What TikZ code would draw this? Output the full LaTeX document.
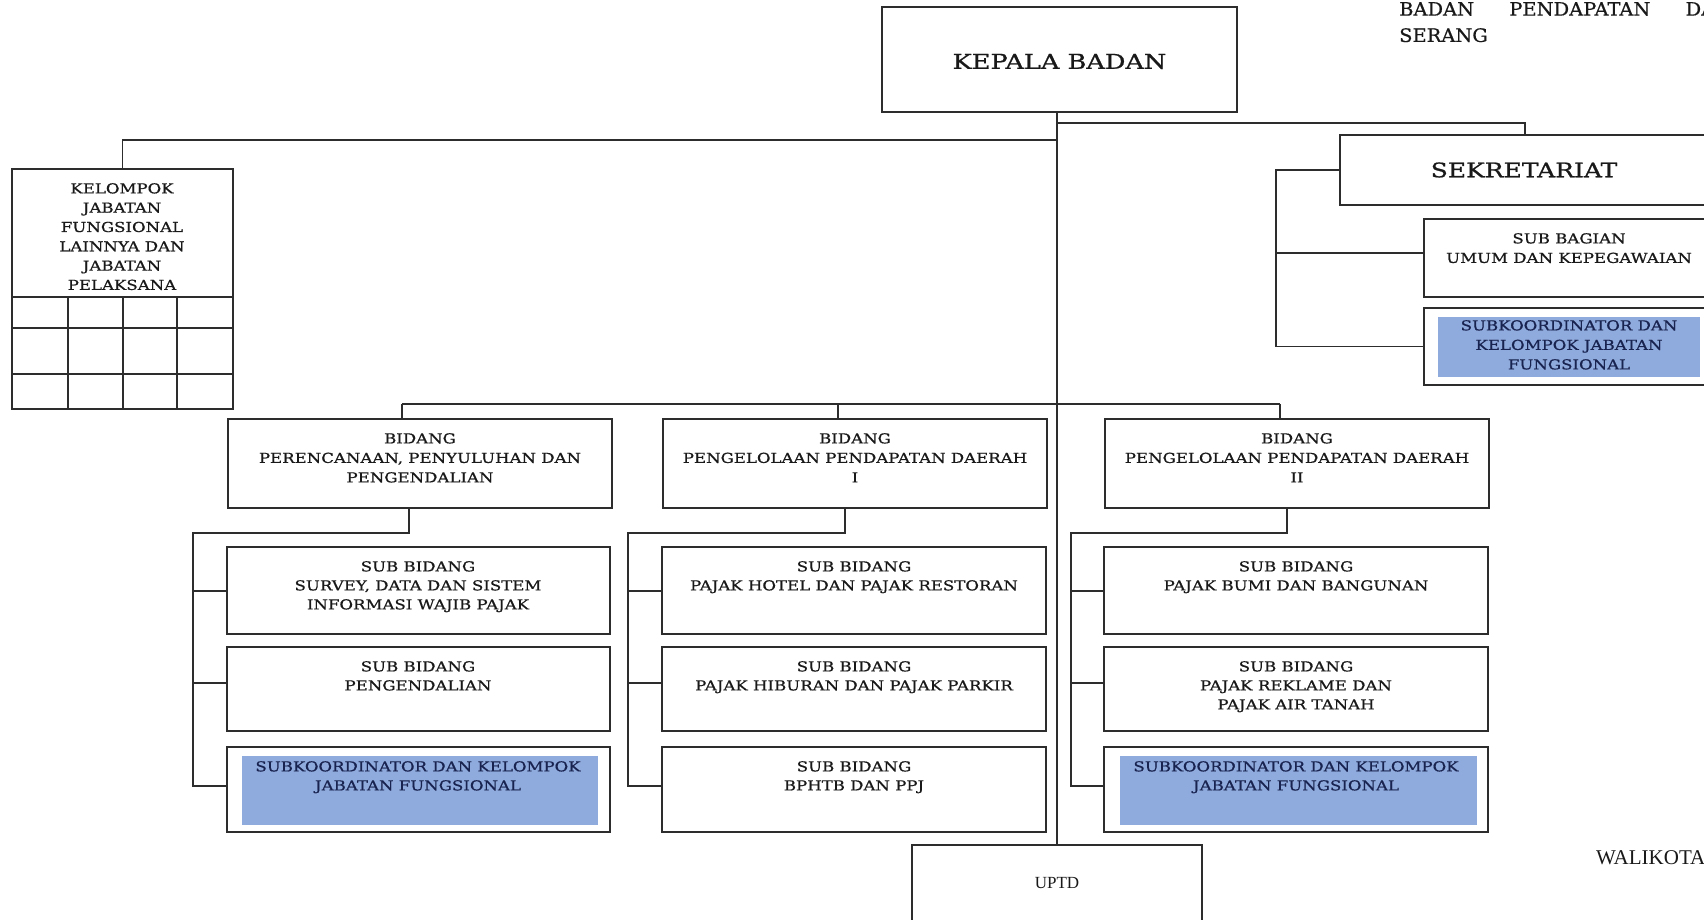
\documentclass[tikz,border=0pt]{standalone}
\usepackage{fontspec}
\usetikzlibrary{fit}
\newfontfamily\bfnt[FakeStretch=1.21,FakeBold=0.8]{DejaVu Serif}
\newfontfamily\kfnt[FakeStretch=1.25,FakeBold=1]{DejaVu Serif}
\newfontfamily\hfnt[FakeStretch=1.05,FakeBold=0.6]{DejaVu Serif}
\newfontfamily\tfnt{Liberation Serif}
\definecolor{linec}{RGB}{45,45,45}
\definecolor{blueF}{RGB}{143,170,220}
\definecolor{navy}{RGB}{25,35,80}
\definecolor{textc}{RGB}{25,25,25}
\tikzset{
  box/.style={draw=linec, line width=1.5pt, inner sep=0pt},
  bluefill/.style={fill=blueF, draw=none, inner sep=0pt},
  conn/.style={draw=linec, line width=1.5pt},
  spine/.style={draw=linec, line width=2pt},
  txt/.style={align=center, inner sep=0pt, anchor=north, text=textc,
    font=\bfnt\fontsize{13.7}{19}\selectfont},
  txtw/.style={txt, font=\bfnt\fontsize{13.7}{19.5}\selectfont},
  btxt/.style={txt, text=navy},
  big/.style={inner sep=0pt, text=textc},
}
\begin{document}
\begin{tikzpicture}[x=1pt,y=-1pt]
\useasboundingbox (0,0) rectangle (1704,920);
\clip (0,0) rectangle (1704,920);
\fill[white] (0,0) rectangle (1704,920);

% header text
\node[big, anchor=north west, font=\hfnt\fontsize{18.5}{26}\selectfont] (hdr1) at (1399,2) {\makebox[316pt][s]{BADAN PENDAPATAN DA}};
\node[big, anchor=north west, font=\hfnt\fontsize{18.5}{26}\selectfont] (hdr2) at (1399,28) {SERANG};
\node[big, anchor=north west, font=\tfnt\fontsize{21}{25}\selectfont] (wali) at (1596,850) {WALIKOTA};

% KEPALA BADAN
\node[box, fit={(882,7) (1237,112)}] (kepala) {};
\node[big, font=\kfnt\fontsize{20.5}{24}\selectfont] (kepalaT) at ([yshift=-2pt]kepala.center) {KEPALA BADAN};

% UPTD
\node[box, fit={(912,845) (1202,940)}] (uptd) {};
\node[big, anchor=north, font=\tfnt\fontsize{17}{20}\selectfont] (uptdT) at (1057,877) {UPTD};

% KELOMPOK
\node[box, fit={(12,169) (233,409)}] (kelompok) {};
\node[txt, font=\bfnt\fontsize{13.7}{19.3}\selectfont] (kelompokT) at (122,183) {KELOMPOK\\JABATAN\\FUNGSIONAL\\LAINNYA DAN\\JABATAN\\PELAKSANA};
\draw[conn] (12,297) -- (233,297) (12,328) -- (233,328) (12,374) -- (233,374);
\draw[conn] (68,297) -- (68,409) (123,297) -- (123,409) (177,297) -- (177,409);

% SEKRETARIAT group
\node[box, fit={(1340,135) (1730,205)}] (sek) {};
\node[big, font=\kfnt\fontsize{20}{24}\selectfont] (sekT) at (1524,170) {SEKRETARIAT};
\node[box, fit={(1424,219) (1730,297)}] (subbag) {};
\node[txtw] (subbagT) at (1569,233) {SUB BAGIAN\\UMUM DAN KEPEGAWAIAN};
\node[box, fit={(1424,308) (1730,385)}] (subkS) {};
\node[bluefill, fit={(1438,317) (1700,377)}] (subkSfill) {};
\node[btxt, font=\bfnt\fontsize{13.7}{19.5}\selectfont] (subkST) at (1569,320) {SUBKOORDINATOR DAN\\KELOMPOK JABATAN\\FUNGSIONAL};

% BIDANG boxes
\node[box, fit={(228,419) (612,508)}] (b1) {};
\node[box, fit={(663,419) (1047,508)}] (b2) {};
\node[box, fit={(1105,419) (1489,508)}] (b3) {};
\node[txtw] (b1T) at (420,433) {BIDANG\\PERENCANAAN, PENYULUHAN DAN\\PENGENDALIAN};
\node[txtw] (b2T) at (855,433) {BIDANG\\PENGELOLAAN PENDAPATAN DAERAH\\I};
\node[txtw] (b3T) at (1297,433) {BIDANG\\PENGELOLAAN PENDAPATAN DAERAH\\II};

% column 1
\node[box, fit={(227,547) (610,634)}] (c1a) {};
\node[box, fit={(227,647) (610,731)}] (c1b) {};
\node[box, fit={(227,747) (610,832)}] (c1c) {};
\node[bluefill, fit={(242,756) (598,825)}] (c1cfill) {};
\node[txt] (c1aT) at (418,561) {SUB BIDANG\\SURVEY, DATA DAN SISTEM\\INFORMASI WAJIB PAJAK};
\node[txt] (c1bT) at (418,661) {SUB BIDANG\\PENGENDALIAN};
\node[btxt] (c1cT) at (418,761) {SUBKOORDINATOR DAN KELOMPOK\\JABATAN FUNGSIONAL};

% column 2
\node[box, fit={(662,547) (1046,634)}] (c2a) {};
\node[box, fit={(662,647) (1046,731)}] (c2b) {};
\node[box, fit={(662,747) (1046,832)}] (c2c) {};
\node[txt] (c2aT) at (854,561) {SUB BIDANG\\PAJAK HOTEL DAN PAJAK RESTORAN};
\node[txt] (c2bT) at (854,661) {SUB BIDANG\\PAJAK HIBURAN DAN PAJAK PARKIR};
\node[txt] (c2cT) at (854,761) {SUB BIDANG\\BPHTB DAN PPJ};

% column 3
\node[box, fit={(1104,547) (1488,634)}] (c3a) {};
\node[box, fit={(1104,647) (1488,731)}] (c3b) {};
\node[box, fit={(1104,747) (1488,832)}] (c3c) {};
\node[bluefill, fit={(1120,756) (1477,825)}] (c3cfill) {};
\node[txt] (c3aT) at (1296,561) {SUB BIDANG\\PAJAK BUMI DAN BANGUNAN};
\node[txt] (c3bT) at (1296,661) {SUB BIDANG\\PAJAK REKLAME DAN\\PAJAK AIR TANAH};
\node[btxt] (c3cT) at (1296,761) {SUBKOORDINATOR DAN KELOMPOK\\JABATAN FUNGSIONAL};

% coordinates for connector routes
\coordinate (sp) at (1057,0);
\coordinate (ylineL) at (0,140);
\coordinate (sekdrop) at (1525,123);
\coordinate (sekbr) at (1276,168);
\coordinate (tieS) at (0,253);
\coordinate (d1) at (402,404);
\coordinate (d2) at (838,404);
\coordinate (d3) at (1280,404);
\coordinate (k1) at (409,533);
\coordinate (k2) at (845,533);
\coordinate (k3) at (1287,533);
\coordinate (br1) at (193,533);
\coordinate (br2) at (628,533);
\coordinate (br3) at (1071,533);
\coordinate (tA) at (0,591);
\coordinate (tB) at (0,683);
\coordinate (tC) at (0,786);

% spine
\draw[spine] (sp |- kepala.south) -- (sp |- uptd.north);

% to kelompok
\draw[conn] (sp |- ylineL) -- (kelompok.north |- ylineL) -- (kelompok.north);

% to sekretariat
\draw[conn] (sp |- sekdrop) -- (sekdrop) -- (sekdrop |- sek.north);
\draw[conn] (sek.west) -- (sek.west -| sekbr) -- (sekbr |- subkS.west) -- (subkS.west);
\draw[conn] (sekbr |- tieS) -- (subbag.west |- tieS);

% to bidang row
\draw[conn] (d1) -- (d3);
\draw[conn] (d1) -- (d1 |- b1.north);
\draw[conn] (d2) -- (d2 |- b2.north);
\draw[conn] (d3) -- (d3 |- b3.north);

% bidang 1 -> subs
\draw[conn] (k1 |- b1.south) -- (k1) -- (br1) -- (br1 |- tC) -- (c1c.west |- tC);
\draw[conn] (br1 |- tA) -- (c1a.west |- tA);
\draw[conn] (br1 |- tB) -- (c1b.west |- tB);

% bidang 2 -> subs
\draw[conn] (k2 |- b2.south) -- (k2) -- (br2) -- (br2 |- tC) -- (c2c.west |- tC);
\draw[conn] (br2 |- tA) -- (c2a.west |- tA);
\draw[conn] (br2 |- tB) -- (c2b.west |- tB);

% bidang 3 -> subs
\draw[conn] (k3 |- b3.south) -- (k3) -- (br3) -- (br3 |- tC) -- (c3c.west |- tC);
\draw[conn] (br3 |- tA) -- (c3a.west |- tA);
\draw[conn] (br3 |- tB) -- (c3b.west |- tB);
\end{tikzpicture}
\end{document}
